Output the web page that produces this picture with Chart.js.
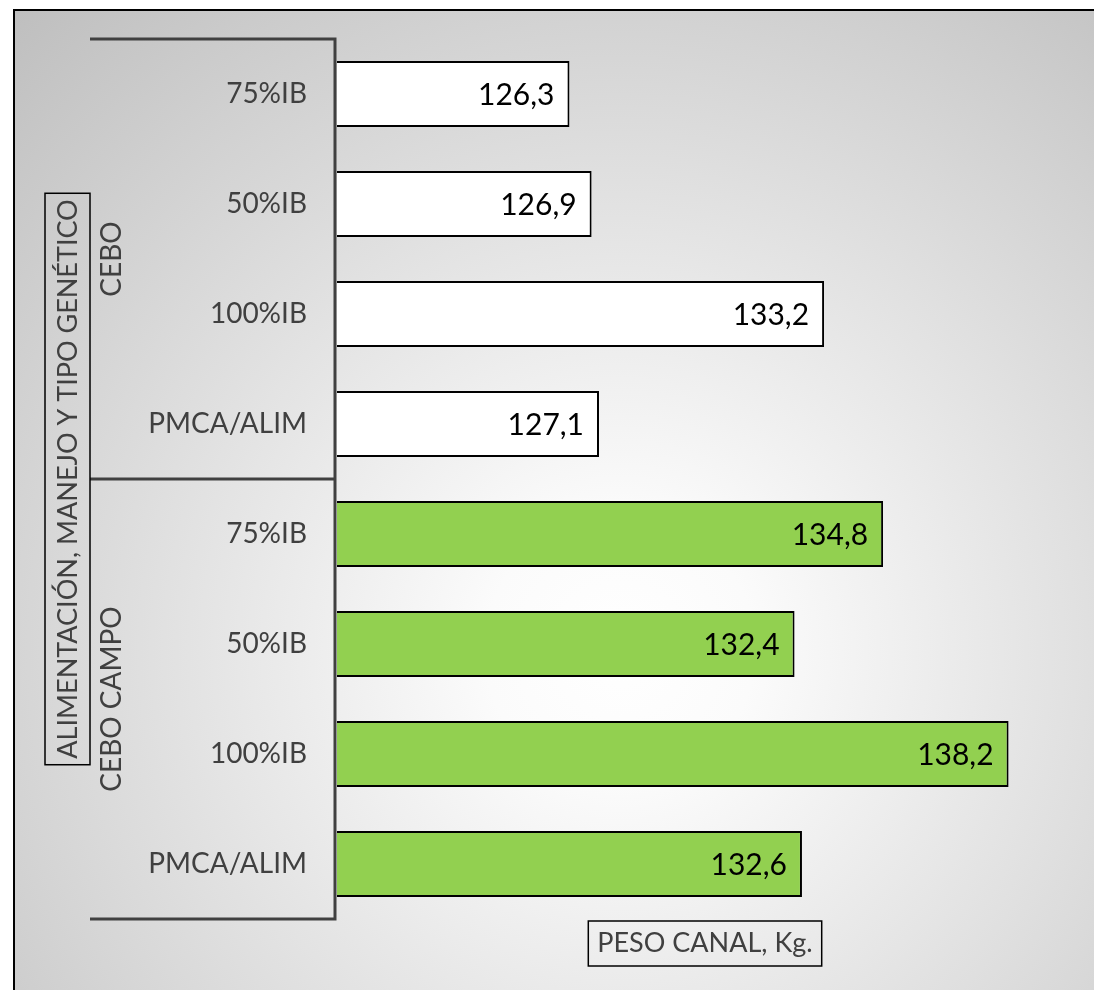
<!DOCTYPE html>
<html>
<head>
<meta charset="utf-8">
<script src="https://cdn.jsdelivr.net/npm/chart.js@4.4.0/dist/chart.umd.min.js"></script>
<style>
  html, body { margin: 0; padding: 0; background: #ffffff; }
  #chart { display: block; }
</style>
</head>
<body>
<canvas id="chart" width="1094" height="990"></canvas>
<script>
// data
const categories = ['75%IB', '50%IB', '100%IB', 'PMCA/ALIM'];
const groups = ['CEBO', 'CEBO CAMPO'];
const ceboValues = [126.3, 126.9, 133.2, 127.1];
const campoValues = [134.8, 132.4, 138.2, 132.6];
const xMin = 120;
const xMax = 140;
const xTitle = 'PESO CANAL, Kg.';
const yTitle = 'ALIMENTACIÓN, MANEJO Y TIPO GENÉTICO';

const groupColors = ['#ffffff', '#92d050'];
const textColor = '#404040';
const fontFamily = 'Lato, "Open Sans", sans-serif';

const labels = categories.concat(categories);
const values = ceboValues.concat(campoValues);
const colors = values.map((v, i) => groupColors[i < categories.length ? 0 : 1]);

// background, frame, bracket lines, titles and value labels
const decorations = {
  id: 'decorations',
  beforeDraw(chart) {
    const ctx = chart.ctx;
    const w = chart.width, h = chart.height;
    ctx.save();
    ctx.fillStyle = '#ffffff';
    ctx.fillRect(0, 0, w, h);
    const g = ctx.createRadialGradient(620, 650, 0, 620, 650, 900);
    g.addColorStop(0, '#ffffff');
    g.addColorStop(0.15, '#fbfbfb');
    g.addColorStop(1, '#bdbdbd');
    ctx.fillStyle = g;
    ctx.fillRect(14, 10, w, h);
    ctx.strokeStyle = '#000000';
    ctx.lineWidth = 2;
    ctx.strokeRect(14, 10, w + 10, h + 10);
    ctx.restore();
  },
  afterDatasetsDraw(chart) {
    const ctx = chart.ctx;
    const area = chart.chartArea;
    const y = chart.scales.y;
    const n = categories.length;
    const mid = (y.getPixelForValue(n - 1) + y.getPixelForValue(n)) / 2;
    const leftX = 90;
    const axisX = area.left - 2;

    ctx.save();
    // bracket lines
    ctx.strokeStyle = textColor;
    ctx.lineWidth = 3;
    ctx.beginPath();
    ctx.moveTo(leftX, area.top);
    ctx.lineTo(axisX, area.top);
    ctx.lineTo(axisX, area.bottom);
    ctx.lineTo(leftX, area.bottom);
    ctx.moveTo(leftX, mid);
    ctx.lineTo(axisX, mid);
    ctx.stroke();

    // group labels
    ctx.fillStyle = textColor;
    ctx.font = '28px ' + fontFamily;
    ctx.textAlign = 'center';
    ctx.textBaseline = 'middle';
    const centers = [(area.top + mid) / 2, (mid + area.bottom) / 2];
    groups.forEach((name, i) => {
      ctx.save();
      ctx.translate(112, centers[i]);
      ctx.rotate(-Math.PI / 2);
      ctx.fillText(name, 0, 0);
      ctx.restore();
    });

    // y title in a box
    ctx.save();
    ctx.translate(67, mid);
    ctx.rotate(-Math.PI / 2);
    ctx.font = '27px ' + fontFamily;
    const tw = ctx.measureText(yTitle).width;
    ctx.fillText(yTitle, 0, 1);
    ctx.strokeStyle = '#000000';
    ctx.lineWidth = 1.5;
    ctx.strokeRect(-tw / 2 - 6, -22, tw + 12, 45);
    ctx.restore();

    // x title in a box
    ctx.font = '27px ' + fontFamily;
    const xw = ctx.measureText(xTitle).width;
    const xc = 705, yc = 943;
    ctx.fillText(xTitle, xc, yc);
    ctx.strokeStyle = '#000000';
    ctx.lineWidth = 1.5;
    ctx.strokeRect(xc - xw / 2 - 9, yc - 22, xw + 18, 45);

    // value labels inside bar ends
    ctx.fillStyle = '#000000';
    ctx.font = '30px ' + fontFamily;
    ctx.textAlign = 'right';
    const meta = chart.getDatasetMeta(0);
    meta.data.forEach((bar, i) => {
      const txt = values[i].toFixed(1).replace('.', ',');
      ctx.fillText(txt, bar.x - 15, bar.y + 1);
    });
    ctx.restore();
  }
};

new Chart(document.getElementById('chart'), {
  type: 'bar',
  data: {
    labels: labels,
    datasets: [{
      data: values,
      backgroundColor: colors,
      borderColor: '#000000',
      borderWidth: 2,
      categoryPercentage: 1,
      barPercentage: 0.6
    }]
  },
  options: {
    indexAxis: 'y',
    responsive: false,
    animation: false,
    layout: { padding: { top: 39, bottom: 71, right: 19, left: 0 } },
    plugins: {
      legend: { display: false },
      tooltip: { enabled: false }
    },
    scales: {
      x: {
        display: false,
        min: xMin,
        max: xMax
      },
      y: {
        grid: { display: false, drawTicks: false },
        border: { display: false },
        ticks: {
          color: textColor,
          padding: 30,
          font: { size: 28, family: fontFamily }
        },
        afterFit(scale) {
          scale.width = 337;
          scale.paddingTop = 0;
          scale.paddingBottom = 0;
        }
      }
    }
  },
  plugins: [decorations]
});
</script>
</body>
</html>
